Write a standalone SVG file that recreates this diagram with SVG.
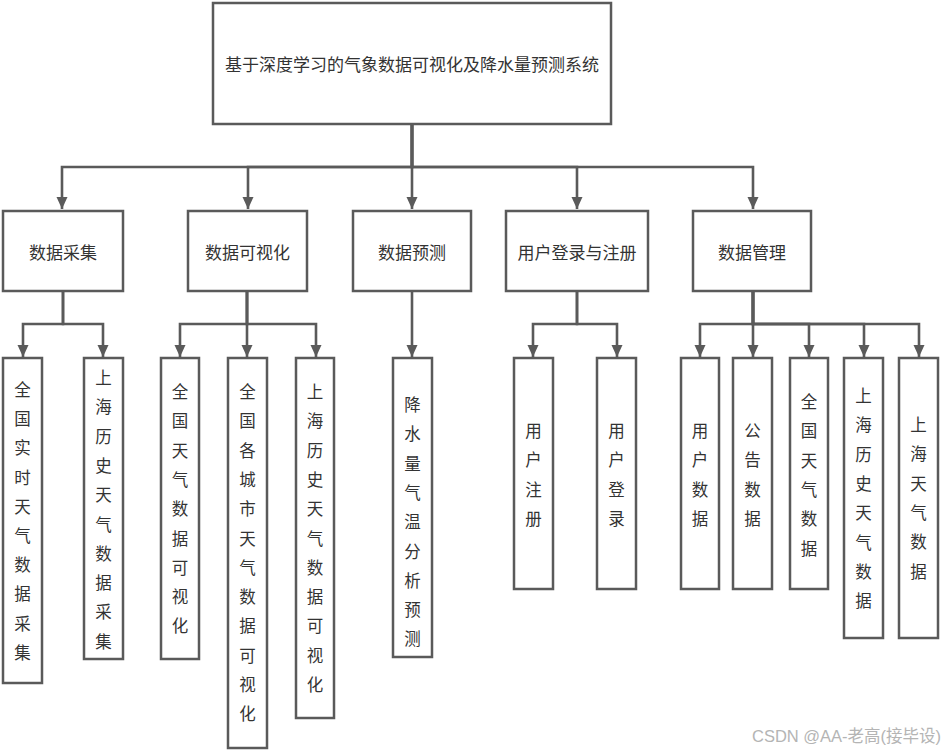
<svg xmlns="http://www.w3.org/2000/svg" width="945" height="751" viewBox="0 0 945 751">
<style>
.box{fill:#fff;stroke:#5a5a5a;stroke-width:2.5}
.t{font-family:"Noto Sans CJK SC","Noto Sans",sans-serif;fill:#333;text-anchor:middle;dominant-baseline:central}
.t17{font-size:17px}
.t16{font-size:16.5px}
.c{fill:none;stroke:#5a5a5a;stroke-width:2.6}
.wm{font-family:"Liberation Sans","Noto Sans CJK SC",sans-serif;font-size:16.5px;fill:#b4b4b4}
</style>
<defs>
<marker id="arr" markerUnits="userSpaceOnUse" markerWidth="12" markerHeight="12" refX="12" refY="5.5" orient="auto">
<path d="M0,0 L12,5.5 L0,11 z" fill="#5a5a5a"/>
</marker>
</defs>
<rect width="945" height="751" fill="#fff"/>
<g id="connectors">
<path class="c" d="M412,124 V167 H62 V209" marker-end="url(#arr)"/>
<path class="c" d="M412,124 V167 H248 V209" marker-end="url(#arr)"/>
<path class="c" d="M412,124 V209" marker-end="url(#arr)"/>
<path class="c" d="M412,124 V167 H577 V209" marker-end="url(#arr)"/>
<path class="c" d="M412,124 V167 H753 V209" marker-end="url(#arr)"/>
<path class="c" d="M63,291 V324 H23 V357" marker-end="url(#arr)"/>
<path class="c" d="M63,291 V324 H103 V357" marker-end="url(#arr)"/>
<path class="c" d="M247,291 V324 H180 V357" marker-end="url(#arr)"/>
<path class="c" d="M247,291 V357" marker-end="url(#arr)"/>
<path class="c" d="M247,291 V324 H316 V357" marker-end="url(#arr)"/>
<path class="c" d="M412,291 V357" marker-end="url(#arr)"/>
<path class="c" d="M577,291 V324 H533 V357" marker-end="url(#arr)"/>
<path class="c" d="M577,291 V324 H617 V357" marker-end="url(#arr)"/>
<path class="c" d="M753,291 V324 H700 V357" marker-end="url(#arr)"/>
<path class="c" d="M753,291 V357" marker-end="url(#arr)"/>
<path class="c" d="M753,291 V324 H809 V357" marker-end="url(#arr)"/>
<path class="c" d="M753,291 V324 H864 V357" marker-end="url(#arr)"/>
<path class="c" d="M753,291 V324 H919 V357" marker-end="url(#arr)"/>
</g>
<g id="root">
<rect class="box" x="213" y="3" width="398" height="121"/>
<text class="t t17" x="412" y="63">基于深度学习的气象数据可视化及降水量预测系统</text>
</g>
<g id="n-collect">
<rect class="box" x="3" y="211" width="120" height="80"/>
<text class="t t17" x="63" y="251">数据采集</text>
</g>
<g id="n-vis">
<rect class="box" x="188" y="211" width="119" height="80"/>
<text class="t t17" x="247.5" y="251">数据可视化</text>
</g>
<g id="n-pred">
<rect class="box" x="353" y="211" width="118" height="80"/>
<text class="t t17" x="412" y="251">数据预测</text>
</g>
<g id="n-user">
<rect class="box" x="506" y="211" width="142" height="80"/>
<text class="t t17" x="577" y="251">用户登录与注册</text>
</g>
<g id="n-manage">
<rect class="box" x="693" y="211" width="118" height="80"/>
<text class="t t17" x="752" y="251">数据管理</text>
</g>
<g id="l1">
<rect class="box" x="3" y="358" width="39" height="325"/>
<text class="t t16" x="22.5"><tspan x="22.5" y="389">全</tspan><tspan x="22.5" y="418.2">国</tspan><tspan x="22.5" y="447.4">实</tspan><tspan x="22.5" y="476.6">时</tspan><tspan x="22.5" y="505.8">天</tspan><tspan x="22.5" y="535">气</tspan><tspan x="22.5" y="564.2">数</tspan><tspan x="22.5" y="593.4">据</tspan><tspan x="22.5" y="622.6">采</tspan><tspan x="22.5" y="651.8">集</tspan></text>
</g>
<g id="l2">
<rect class="box" x="84" y="358" width="39" height="301"/>
<text class="t t16" x="103.5"><tspan x="103.5" y="377">上</tspan><tspan x="103.5" y="406.3">海</tspan><tspan x="103.5" y="435.6">历</tspan><tspan x="103.5" y="464.9">史</tspan><tspan x="103.5" y="494.2">天</tspan><tspan x="103.5" y="523.5">气</tspan><tspan x="103.5" y="552.8">数</tspan><tspan x="103.5" y="582.1">据</tspan><tspan x="103.5" y="611.4">采</tspan><tspan x="103.5" y="640.7">集</tspan></text>
</g>
<g id="l3">
<rect class="box" x="161" y="358" width="38" height="301"/>
<text class="t t16" x="180"><tspan x="180" y="391">全</tspan><tspan x="180" y="420.3">国</tspan><tspan x="180" y="449.6">天</tspan><tspan x="180" y="478.9">气</tspan><tspan x="180" y="508.2">数</tspan><tspan x="180" y="537.5">据</tspan><tspan x="180" y="566.8">可</tspan><tspan x="180" y="596.1">视</tspan><tspan x="180" y="625.4">化</tspan></text>
</g>
<g id="l4">
<rect class="box" x="228" y="358" width="39" height="390"/>
<text class="t t16" x="247.5"><tspan x="247.5" y="391">全</tspan><tspan x="247.5" y="420.3">国</tspan><tspan x="247.5" y="449.6">各</tspan><tspan x="247.5" y="478.9">城</tspan><tspan x="247.5" y="508.2">市</tspan><tspan x="247.5" y="537.5">天</tspan><tspan x="247.5" y="566.8">气</tspan><tspan x="247.5" y="596.1">数</tspan><tspan x="247.5" y="625.4">据</tspan><tspan x="247.5" y="654.7">可</tspan><tspan x="247.5" y="684">视</tspan><tspan x="247.5" y="713.3">化</tspan></text>
</g>
<g id="l5">
<rect class="box" x="296" y="358" width="38" height="360"/>
<text class="t t16" x="315"><tspan x="315" y="391">上</tspan><tspan x="315" y="420.3">海</tspan><tspan x="315" y="449.6">历</tspan><tspan x="315" y="478.9">史</tspan><tspan x="315" y="508.2">天</tspan><tspan x="315" y="537.5">气</tspan><tspan x="315" y="566.8">数</tspan><tspan x="315" y="596.1">据</tspan><tspan x="315" y="625.4">可</tspan><tspan x="315" y="654.7">视</tspan><tspan x="315" y="684">化</tspan></text>
</g>
<g id="l6">
<rect class="box" x="393" y="358" width="39" height="299"/>
<text class="t t16" x="412.5"><tspan x="412.5" y="404">降</tspan><tspan x="412.5" y="433.3">水</tspan><tspan x="412.5" y="462.6">量</tspan><tspan x="412.5" y="491.9">气</tspan><tspan x="412.5" y="521.2">温</tspan><tspan x="412.5" y="550.5">分</tspan><tspan x="412.5" y="579.8">析</tspan><tspan x="412.5" y="609.1">预</tspan><tspan x="412.5" y="638.4">测</tspan></text>
</g>
<g id="l7">
<rect class="box" x="514" y="358" width="39" height="231"/>
<text class="t t16" x="533.5"><tspan x="533.5" y="430">用</tspan><tspan x="533.5" y="459.3">户</tspan><tspan x="533.5" y="488.6">注</tspan><tspan x="533.5" y="517.9">册</tspan></text>
</g>
<g id="l8">
<rect class="box" x="597" y="358" width="39" height="231"/>
<text class="t t16" x="616.5"><tspan x="616.5" y="430">用</tspan><tspan x="616.5" y="459.3">户</tspan><tspan x="616.5" y="488.6">登</tspan><tspan x="616.5" y="517.9">录</tspan></text>
</g>
<g id="l9">
<rect class="box" x="681" y="358" width="38" height="231"/>
<text class="t t16" x="700"><tspan x="700" y="430">用</tspan><tspan x="700" y="459.3">户</tspan><tspan x="700" y="488.6">数</tspan><tspan x="700" y="517.9">据</tspan></text>
</g>
<g id="l10">
<rect class="box" x="733" y="358" width="39" height="231"/>
<text class="t t16" x="752.5"><tspan x="752.5" y="430">公</tspan><tspan x="752.5" y="459.3">告</tspan><tspan x="752.5" y="488.6">数</tspan><tspan x="752.5" y="517.9">据</tspan></text>
</g>
<g id="l11">
<rect class="box" x="790" y="358" width="38" height="231"/>
<text class="t t16" x="809"><tspan x="809" y="401">全</tspan><tspan x="809" y="430.3">国</tspan><tspan x="809" y="459.6">天</tspan><tspan x="809" y="488.9">气</tspan><tspan x="809" y="518.2">数</tspan><tspan x="809" y="547.5">据</tspan></text>
</g>
<g id="l12">
<rect class="box" x="844" y="358" width="39" height="280"/>
<text class="t t16" x="863.5"><tspan x="863.5" y="395">上</tspan><tspan x="863.5" y="424.3">海</tspan><tspan x="863.5" y="453.6">历</tspan><tspan x="863.5" y="482.9">史</tspan><tspan x="863.5" y="512.2">天</tspan><tspan x="863.5" y="541.5">气</tspan><tspan x="863.5" y="570.8">数</tspan><tspan x="863.5" y="600.1">据</tspan></text>
</g>
<g id="l13">
<rect class="box" x="899" y="358" width="39" height="280"/>
<text class="t t16" x="918.5"><tspan x="918.5" y="424">上</tspan><tspan x="918.5" y="453.3">海</tspan><tspan x="918.5" y="482.6">天</tspan><tspan x="918.5" y="511.9">气</tspan><tspan x="918.5" y="541.2">数</tspan><tspan x="918.5" y="570.5">据</tspan></text>
</g>
<text class="wm" x="752" y="742">CSDN @AA-老高(接毕设)</text>
</svg>
